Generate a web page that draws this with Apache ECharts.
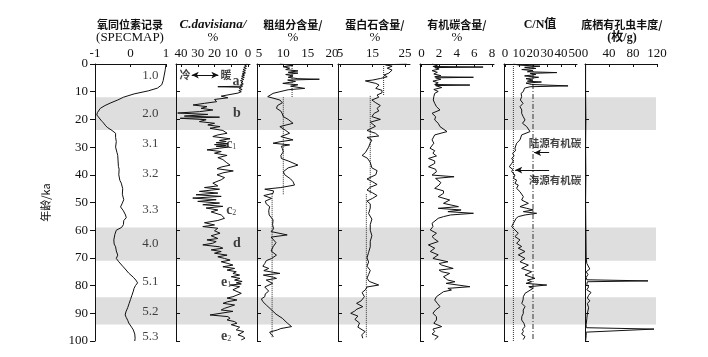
<!DOCTYPE html>
<html><head><meta charset="utf-8">
<script src="https://cdn.jsdelivr.net/npm/echarts@6/dist/echarts.min.js"></script>
<style>html,body{margin:0;padding:0;background:#fff}#c{width:708px;height:357px}</style>
</head><body><div id="c"></div>
<script>
// ---------- DATA (age ka, value) ----------
const bands = [[12,23.8],[59,71],[84.2,94]];
const specmap = [[0,1.0],[2,0.98],[4,0.95],[6,0.92],[7.5,0.88],[8.7,0.76],[9.7,0.5],[10.8,0.1],[12,-0.2],[13,-0.36],[14,-0.55],[15,-0.72],[16,-0.85],[16.6,-0.9],[17.5,-0.93],[18.4,-0.95],[19.5,-0.88],[20.5,-0.82],[21.4,-0.75],[22.3,-0.7],[23,-0.64],[24,-0.52],[25,-0.42],[26.5,-0.42],[28,-0.4],[30,-0.42],[32,-0.38],[33,-0.36],[35,-0.35],[37,-0.34],[38,-0.32],[40,-0.33],[42,-0.3],[43,-0.26],[45,-0.22],[47,-0.23],[49,-0.19],[50.5,-0.24],[51.6,-0.28],[53,-0.2],[54.5,-0.14],[55.5,-0.12],[56.5,-0.19],[58,-0.2],[59,-0.25],[60,-0.4],[61.5,-0.44],[63.5,-0.47],[65,-0.46],[66,-0.42],[67.5,-0.4],[69,-0.36],[70.2,-0.4],[70.8,-0.45],[71.4,-0.33],[72,-0.32],[73,-0.22],[74,-0.15],[75.5,-0.05],[77,0.08],[78,0.15],[79,0.2],[80,0.14],[81,0.1],[82,0.08],[83.5,0.04],[85,0.0],[86.5,-0.04],[88,-0.08],[89.5,-0.13],[90.6,-0.15],[91.5,-0.12],[92.5,-0.08],[93.5,-0.05],[95,0.03],[96,0.08],[97.5,0.12],[99,0.13],[100,0.12]];
const cdavisiana = [[0,0.5],[0.4,2],[0.8,0.8],[1.2,2.5],[1.6,1],[2,3],[2.4,1.5],[2.8,3.2],[3.2,1.5],[3.6,3.5],[4,2],[4.4,3.8],[4.8,2.2],[5.2,4],[5.6,2.5],[6,4.5],[6.4,3],[6.8,4.2],[7.2,2.8],[7.6,4.6],[8,3.2],[8.2,18],[8.4,4],[8.8,5.2],[9.2,3.5],[9.6,5.5],[10,4],[10.5,6],[11,5],[11.6,16],[12.2,12],[12.8,20],[13.6,18.7],[14.2,26],[14.8,32.8],[15.4,24.5],[16,28],[16.6,21],[17.2,29],[17.7,42],[18.2,24],[18.8,38],[19.2,17],[19.6,40.5],[20.1,25],[20.8,29],[21.4,20],[22,24],[22.6,16.7],[23.2,22.7],[24,15],[25,12.5],[25.6,18],[26.2,21],[27,10.7],[27.6,17],[28,13],[28.4,19],[28.8,12],[29.1,20],[29.4,13],[29.7,19],[30,12],[30.4,17],[31,24.5],[31.6,16],[32.2,20],[33,12.5],[33.8,18],[34.5,15],[35.5,13],[36.5,10.7],[37.2,16],[37.8,18.5],[38.6,8.8],[39.3,15],[40,18.5],[41,14],[41.8,16],[43,21],[44,18],[44.6,26],[45.2,17],[46,29],[46.6,18],[47.2,31],[47.8,16],[48.4,33],[49,19],[49.6,30],[50.2,17],[50.8,27],[51.4,15],[52,25],[52.7,18],[53.4,22],[54.5,16],[55.7,14],[56.5,18],[57.3,26],[58.1,20],[58.7,27],[59.3,18],[60.2,20],[61.1,16.7],[62,22],[63,18],[63.5,24.5],[64.1,19],[64.7,21],[65.3,27],[66,17],[66.5,15],[67.1,22],[67.7,16],[68.3,20],[69,12.5],[69.6,18],[70.2,14],[70.8,10.7],[71.4,16],[72,12],[72.6,9],[73.2,15],[73.8,8],[74.4,12.5],[75,7],[75.6,9],[76.2,5],[76.8,10],[77.4,4.8],[78,8],[78.5,3.5],[79,7],[79.4,4],[79.8,10.7],[80.4,5],[80.9,6],[81.5,9],[82.2,9],[82.8,4],[83.4,3.6],[84,9],[84.5,12.5],[85.2,6.6],[85.8,12],[86.4,14.9],[87,8],[87.6,9],[88.2,14],[88.8,16],[89.3,9],[89.8,9],[90.6,22.7],[91.2,12],[91.8,10.7],[92.4,12.5],[93,8],[93.6,6.6],[94.1,10],[94.6,9],[95,5],[95.4,4.8],[96,7],[96.6,2.5],[97.2,1.8],[97.8,6],[98.4,3],[99,1.8],[99.6,4]];
const coarse = [[0,9.3],[0.5,12],[1,10],[1.5,11.3],[2,10.5],[2.5,13],[3,11],[3.3,13],[3.8,10.5],[4.3,12],[4.8,11],[5.3,13],[5.5,17.4],[5.8,10.9],[6.3,12.5],[7,9.9],[7.5,13],[8,11.5],[8.8,14.4],[9.3,11],[10,9.3],[10.6,7.9],[11.2,7.5],[11.8,6.8],[12.5,7],[13,9.3],[14,9.8],[15,8.8],[16,8.6],[17,9.5],[18,9.8],[19,10],[20,11],[21.4,12],[22.6,9.3],[24,10.5],[25,11.3],[26.2,9.5],[27.4,12],[28,9.5],[28.6,7.9],[29.2,11.3],[29.7,9.6],[30.5,9.8],[31.7,10],[33,9.5],[34.1,9.6],[35,11],[36.5,13],[37.5,11],[38.9,10],[40,10.3],[41.5,11.5],[42.5,12],[43.7,12.3],[44.6,9.5],[45.2,6.2],[45.8,8],[46.7,7.9],[47.5,6],[48.5,7.6],[49.5,6.3],[50.5,6.5],[51.5,7.2],[53,7],[54.5,7.1],[56.3,7.9],[58,7.8],[59.5,8],[60.5,7.5],[61.7,10.8],[62.5,7.5],[63,7.2],[64.5,8.5],[66,7.9],[67.5,7.5],[69,8.6],[70.2,7.6],[71,6.5],[72,6.2],[73,5.8],[73.8,7],[74.6,6],[75.6,9.3],[76.2,5.9],[77,8],[77.4,8.6],[78,6.5],[78.6,6.2],[79.2,7.8],[79.8,7.9],[80.5,6.2],[81,5.9],[82,7],[83,6.3],[84,6.2],[84.8,5.5],[85.8,5.8],[87,6.5],[88.8,7.6],[90.3,8.5],[91.8,9.8],[93.5,10.8],[94.8,11.7],[95.5,9.5],[96,8.8],[96.8,7.2],[97.8,7.6],[98.4,8]];
const coarseMeans = [[0,12,11.8],[12,47,10],[47,99,7.7]];
const opal = [[0,25.5],[0.3,19],[0.8,21],[1.5,19.5],[2.2,21],[2.8,20.5],[3.3,20],[4,18.5],[4.6,19.5],[5.2,17.5],[5.8,15],[6.1,12.8],[6.6,14.5],[7,16],[7.6,17],[8.2,16.5],[8.8,16],[9.5,17.9],[10.4,17.9],[11.2,16.4],[12,16.9],[13,14.8],[14,16],[15,17.4],[16,16.4],[17,16.9],[17.8,15.5],[19,14.8],[20,17.4],[21,14.3],[22.5,15.9],[24,13.3],[25,15.9],[26,16.9],[26.5,13.3],[27.5,14.8],[28.5,14.3],[30,13.8],[32,12.8],[33,11.8],[34,13.4],[35.5,14.3],[37.5,14.8],[38.5,16.4],[40,16],[41.5,13.3],[42.5,15],[43.5,16.4],[44.5,14.3],[45.5,13.3],[46.5,15],[47.5,16.4],[48.5,15],[49.5,13.3],[50.5,14.3],[52,14.3],[54,13.8],[56,14.8],[58,14.3],[60,14.3],[62,14.8],[64,14.3],[66,14.3],[68,13.8],[70,13.3],[71.5,13.8],[73,13.3],[74.5,14.3],[76,13.8],[77.3,13.3],[78.5,14],[79.8,16.9],[80.5,13.3],[81.5,12.8],[82.5,11.8],[84,12.5],[85.5,11.5],[86.4,10.1],[87.6,12],[88.5,10.2],[89.2,9.5],[90,8.3],[91,10.5],[92.2,9.6],[93.5,11],[95,10.5],[96.6,12.7],[97.8,11.7],[99,12]];
const opalMeans = [[0,11.5,18.4],[11.5,47,14.3],[47,99,13.1]];
const toc = [[0,1.2],[0.5,1.8],[0.9,1.3],[1.1,7.0],[1.3,1.5],[1.8,2.0],[2.4,1.2],[3,1.8],[3.6,1.4],[4.2,2.2],[4.6,1.5],[4.8,5.9],[5.0,1.6],[5.5,2.2],[6.2,1.3],[6.8,1.9],[7.4,1.5],[7.6,5.5],[7.8,1.6],[8.5,2.3],[9.2,1.4],[9.9,1.9],[10.6,1.5],[11.8,1.4],[13,1.34],[14.2,1.5],[15.4,1.7],[16.6,2.1],[17.8,1.2],[19,1.6],[20.2,1.5],[21.4,1.9],[22.6,2.1],[24.4,2.9],[25.6,1.5],[27.4,1.2],[28.6,1.4],[29.2,1.3],[30.4,0.97],[31.3,1.5],[32.2,1.3],[33.2,1.7],[34.1,0.8],[35,1.5],[35.9,1.5],[37.1,0.8],[38,1.6],[38.9,1.7],[40.1,1.2],[40.7,3.7],[41.3,1.6],[41.9,1.5],[42.8,2.2],[43.7,2.0],[44.9,1.5],[45.8,2.5],[46.7,2.5],[47.9,1.9],[49.1,3.2],[50.3,2.5],[51.5,4.2],[52.1,1.9],[52.7,4.5],[53.3,3.0],[53.9,5.9],[54.5,3.3],[55.1,2.5],[55.7,1.9],[56.3,1.9],[57.5,1.2],[58.7,1.3],[59.9,1.0],[61.1,1.7],[62.3,1.2],[63.2,1.5],[64.1,1.9],[65.3,0.78],[66.5,1.5],[67.7,1.0],[68.9,1.9],[70.2,1.3],[71.4,3.0],[72,2.0],[72.6,2.3],[73.2,2.5],[73.8,3.6],[74.4,2.0],[75,2.3],[75.6,3.2],[76.2,3.4],[76.8,2.5],[77.4,2.67],[78,3.0],[78.6,3.8],[79.2,2.8],[79.8,3.0],[80.4,5.5],[81,3.0],[81.6,3.4],[82.2,2.5],[82.8,2.3],[84,1.7],[85.2,1.5],[86.4,1.8],[87.6,2.1],[88.8,1.6],[90,1.3],[91.2,1.7],[92.4,1.7],[93.6,1.4],[94.8,2.3],[95.7,1.3],[96.6,1.5],[97.5,1.2],[98.4,1.9],[99.5,1.5]];
const cnRatio = [[0,6],[0.4,10],[0.8,25],[1.2,14],[1.6,22],[2,12],[2.4,20],[2.8,16],[3.1,37],[3.4,18],[3.8,22],[4.3,14],[4.8,24],[5.3,15],[5.8,20],[6.2,16],[6.5,26],[6.9,15],[7.4,19],[7.9,45],[8.2,18],[8.7,14],[9.4,12.9],[10,13],[10.6,11.5],[11.8,11.9],[13,11],[14.2,12.9],[15.4,10.7],[16.6,12],[17.8,11.9],[19,13],[20.2,14.3],[21.4,12.5],[22.6,15.5],[24.4,17.9],[25.6,11.9],[27.4,10.7],[28.6,8.3],[29.2,9.5],[30.4,7.1],[31.3,7.5],[32.2,5.5],[33.2,6.5],[34.1,4.8],[35,6.0],[35.9,4.8],[37.1,3.1],[38,5.5],[38.9,4.8],[40.1,7.1],[41.3,6.0],[41.9,8.3],[43.1,7.1],[43.7,9.5],[44.9,8.3],[46.1,10.7],[46.7,9.5],[47.9,13.1],[49.1,11.9],[50.3,16.7],[51.5,10.7],[52.1,15.5],[52.7,20.2],[53.3,13.1],[53.9,22.6],[54.5,14.3],[55.1,9.5],[55.7,8],[56.3,7.1],[57.5,6.0],[58.7,4.8],[59.9,7.1],[61.1,9.5],[62.3,7.1],[63.5,10.7],[64.7,8.3],[65.9,11.9],[66.5,9.5],[67.7,14.3],[68.9,9.5],[70.2,14.3],[71.4,10.7],[72.6,16.7],[73.8,11.9],[75,19],[75.6,20],[76.2,14.3],[77.4,21.4],[78,16],[78.6,19],[79.2,15],[79.8,29.8],[80.4,17],[81,20],[81.6,19],[82.8,14.3],[84,13.1],[85.2,12.9],[86.4,12],[87.6,14.3],[88.8,13],[90,13.1],[91.2,12],[92.4,11.9],[93.6,13.5],[94.8,14.3],[95.7,12.5],[96.6,13.1],[97.5,11.9],[98.4,14.3],[99.5,13]];
const cnMarine = 6, cnTerrestrial = 20;
const benthic = [[0,1],[10,1],[20,1.5],[30,1],[40,1.5],[50,1],[60,1.5],[70,2],[72,3],[74,8],[75,2],[76,5],[77,2],[77.9,3],[78.3,105],[78.6,4],[79.5,3],[80.5,6],[81.5,3],[82.5,10],[83.5,6],[84.5,4],[85.5,8],[86.5,4],[88,6],[90,4],[92,3],[94,2],[95.2,2],[95.7,115],[96.8,2],[98,2],[100,1]];
const misLabels = [[4,'1.0'],[17.8,'2.0'],[28.6,'3.1'],[39.5,'3.2'],[52.7,'3.3'],[64.7,'4.0'],[78.6,'5.1'],[89.4,'5.2'],[98.4,'5.3']];
const cdLetters = [[7.2,6.4,'a',''],[6.7,17.8,'b',''],[10,29,'c','1'],[10,52.7,'c','2'],[6.7,64.7,'d',''],[13.1,79,'e','1'],[13.1,98.4,'e','2']];
const titles = [['氧同位素记录','(SPECMAP)'],['C.davisiana/','%'],['粗组分含量/','%'],['蛋白石含量/','%'],['有机碳含量/','%'],['C/N值',''],['底栖有孔虫丰度/','(枚/g)']];
const xTicks = [[-1,0,1],[0,10,20,30,40],[5,10,15,20],[5,15,25],[0,2,4,6,8],[0,10,20,30,40,50],[0,40,80,120]];

// ---------- LAYOUT ----------
const TOP = 64, H = 277;
const panels = [
  {left:95,  width:71, min:-1,   max:1,    inv:false},
  {left:176, width:74, min:-1.2, max:43,   inv:true},
  {left:257, width:75, min:4.6,  max:20,   inv:false},
  {left:338, width:72, min:4.4,  max:26.5, inv:false},
  {left:420, width:74, min:-0.17,max:8.24, inv:false},
  {left:504, width:73, min:-0.7, max:51.4, inv:false},
  {left:585, width:72, min:0,    max:120,  inv:false}
];
const serif = 'Liberation Serif', cjk = 'Noto Sans CJK SC';
const INK = '#111';

const grid = panels.map(p => ({left:p.left, width:p.width, top:TOP, height:H}));
grid.push({left:95, width:561, top:TOP, height:H}); // background for bands
const BG = 7;

const xAxis = panels.map((p,i) => ({
  gridIndex:i, type:'value', position:'top', min:p.min, max:p.max, inverse:p.inv, z:5,
  axisLine:{show:true, onZero:false, lineStyle:{color:INK, width:1}},
  axisTick:{show:true, inside:true, length:3, customValues:xTicks[i], lineStyle:{color:INK}},
  axisLabel:{show:true, customValues:xTicks[i], fontFamily:serif, fontSize:13, color:INK, margin:4},
  splitLine:{show:false}
}));
xAxis.push({gridIndex:BG, type:'value', min:0, max:1, show:false});

const yAxis = panels.map((p,i) => ({
  gridIndex:i, type:'value', min:0, max:100, interval:10, inverse:true, z:5,
  axisLine:{show:true, onZero:false, lineStyle:{color:INK, width:1}},
  axisTick:{show:true, inside:i>0, length:i>0?4:5, lineStyle:{color:INK}},
  axisLabel:{show:i===0, fontFamily:serif, fontSize:13, color:INK, margin:7},
  splitLine:{show:false},
  name: i===0 ? '年龄/ka' : '', nameLocation:'middle', nameGap:44,
  nameTextStyle:{fontFamily:cjk, fontSize:11, color:INK}
}));
yAxis.push({gridIndex:BG, type:'value', min:0, max:100, inverse:true, show:false});

const lineS = (i, arr, extra) => Object.assign({
  type:'line', xAxisIndex:i, yAxisIndex:i, data:arr.map(d => [d[1], d[0]]),
  showSymbol:false, symbol:'none', z:4, silent:true, animation:false,
  lineStyle:{color:INK, width:1}
}, extra||{});

const meanS = (i, segs) => segs.map(s => ({
  type:'line', xAxisIndex:i, yAxisIndex:i, data:[[s[2], s[0]],[s[2], s[1]]],
  showSymbol:false, symbol:'none', z:3, silent:true, animation:false,
  lineStyle:{color:'#333', width:1, type:'dotted'}
}));

const series = [];
// bands
series.push({
  type:'custom', xAxisIndex:BG, yAxisIndex:BG, z:0, silent:true, animation:false,
  data: bands,
  renderItem:(params, api) => {
    const a = api.coord([0, api.value(0)]), b = api.coord([1, api.value(1)]);
    return {type:'rect', shape:{x:a[0], y:a[1], width:b[0]-a[0], height:b[1]-a[1]}, style:{fill:'#dedede'}};
  },
  encode:{x:-1, y:[0,1]}
});
series.push(lineS(0, specmap));
series.push(lineS(1, cdavisiana, {
  markLine:{silent:true, symbol:['arrow','arrow'], symbolSize:[5,7], animation:false,
    label:{show:false}, lineStyle:{color:INK, width:1, type:'solid'},
    data:[[{coord:[33.6,4]},{coord:[17.7,4]}]]}
}));
series.push(lineS(2, coarse));
series.push(...meanS(2, coarseMeans));
series.push(lineS(3, opal));
series.push(...meanS(3, opalMeans));
series.push(lineS(4, toc));
series.push(lineS(5, cnRatio, {
  markLine:{silent:true, symbol:['none','arrow'], symbolSize:[5,7], animation:false,
    label:{show:false}, lineStyle:{color:INK, width:1, type:'solid'},
    data:[[{coord:[31.5,32]},{coord:[20.8,32]}],[{coord:[31.5,38.3]},{coord:[7.3,38.3]}]]}
}));
series.push({type:'line', xAxisIndex:5, yAxisIndex:5, data:[[cnMarine,0],[cnMarine,100]], symbol:'none', z:3, silent:true, animation:false, lineStyle:{color:'#333', width:1, type:'dotted'}});
series.push({type:'line', xAxisIndex:5, yAxisIndex:5, data:[[cnTerrestrial,0],[cnTerrestrial,100]], symbol:'none', z:3, silent:true, animation:false, lineStyle:{color:'#333', width:1, type:[5,2,1,2]}});
series.push(lineS(6, benthic));

// annotation labels in data space
series.push({
  type:'scatter', xAxisIndex:0, yAxisIndex:0, symbolSize:1, itemStyle:{color:'rgba(0,0,0,0)'}, z:6, silent:true, animation:false,
  data: misLabels.map(m => [0.56, m[0], m[1]]),
  label:{show:true, position:'inside', formatter:p => p.data[2], fontFamily:serif, fontSize:13, color:INK}
});
series.push({
  type:'scatter', xAxisIndex:1, yAxisIndex:1, symbolSize:1, itemStyle:{color:'rgba(0,0,0,0)'}, z:6, silent:true, animation:false,
  data: cdLetters.map(m => [m[0], m[1], m[2], m[3]]),
  label:{show:true, position:'inside', fontFamily:serif, color:INK,
    formatter:p => p.data[3] ? '{m|'+p.data[2]+'}{s|'+p.data[3]+'}' : '{m|'+p.data[2]+'}',
    rich:{m:{fontFamily:serif, fontSize:14, fontWeight:'bold', color:INK}, s:{fontFamily:serif, fontSize:8, color:INK, padding:[5,0,0,0]}}}
});
series.push({
  type:'scatter', xAxisIndex:1, yAxisIndex:1, symbolSize:1, itemStyle:{color:'rgba(0,0,0,0)'}, z:6, silent:true, animation:false,
  data: [[37.6,4,'冷'],[13.1,4,'暖']],
  label:{show:true, position:'inside', formatter:p => p.data[2], fontFamily:cjk, fontSize:11, fontWeight:'bold', color:INK}
});
series.push({
  type:'scatter', xAxisIndex:5, yAxisIndex:5, symbolSize:1, itemStyle:{color:'rgba(0,0,0,0)'}, z:6, silent:true, animation:false,
  data: [[35.7,28.6,'陆源有机碳'],[35.7,41.9,'海源有机碳']],
  label:{show:true, position:'inside', formatter:p => p.data[2], fontFamily:cjk, fontSize:10.5, fontWeight:'bold', color:INK}
});

// titles
const titleX = [130,213,293,375,457,540,622];
const graphic = [];
titles.forEach((t,i) => {
  const isItalic = i===1;
  graphic.push({type:'text', x:titleX[i], y:25, style:{text:t[0], fill:INK, align:'center', verticalAlign:'middle',
    font: isItalic ? 'italic bold 13px "Liberation Serif"' : (i===5 ? 'bold 12px "Liberation Serif","Noto Sans CJK SC"' : 'bold 11px "Noto Sans CJK SC"')}});
  if (t[1]) graphic.push({type:'text', x:titleX[i], y:38, style:{text:t[1], fill:INK, align:'center', verticalAlign:'middle',
    font: i===6 ? 'bold 12px "Liberation Serif","Noto Sans CJK SC"' : '13px "Liberation Serif"'}});
});

const chart = echarts.init(document.getElementById('c'), null, {renderer:'canvas'});
chart.setOption({animation:false, backgroundColor:'#fff', grid, xAxis, yAxis, series, graphic});
</script>
</body></html>
